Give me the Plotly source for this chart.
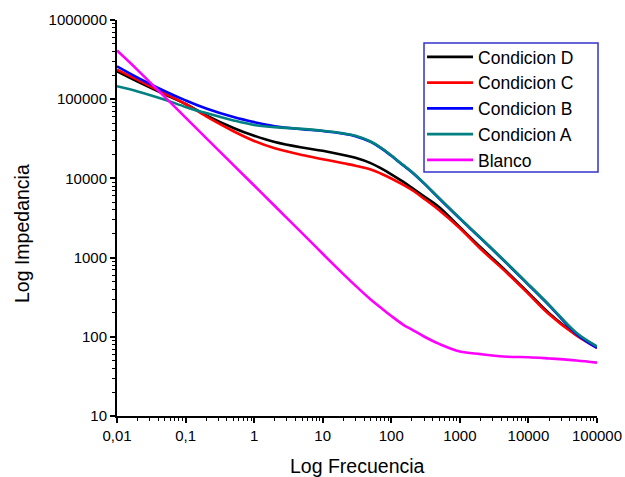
import plotly.graph_objects as go

# Frequency sweep (Hz)
frecuencia = [0.01, 0.02, 0.05, 0.1, 0.2, 0.5, 1, 2, 5, 10, 20, 30, 50, 70, 100,
              150, 200, 300, 500, 1000, 2000, 5000, 10000, 20000, 50000, 100000]

# Impedance modulus (ohm) per condition
cond_d = [225300, 166900, 114700, 86960, 62600, 43380, 34560, 28850, 24580, 22330,
          19760, 18170, 15570, 13460, 11270, 9030, 7607, 5939, 4324, 2415,
          1353, 646, 359, 198.2, 106.3, 75.2]
cond_c = [236700, 175400, 117700, 86960, 60630, 39390, 29700, 24020, 19760, 17490,
          15520, 14470, 12990, 11530, 9970, 8275, 7133, 5554, 3963, 2346,
          1292, 626, 348.7, 192.5, 103.8, 72.4]
cond_b = [260500, 187600, 126200, 96600, 76100, 59400, 51340, 45580, 41760, 39630,
          36630, 34160, 28930, 24300, 19310, 14560, 11950, 8645, 5570, 3103,
          1760, 820, 453, 249.5, 108.8, 72.4]
cond_a = [145600, 125500, 98550, 79900, 66730, 53950, 47330, 44390, 42180, 40030,
          37000, 34500, 29220, 24540, 19500, 14710, 12070, 8730, 5630, 3135,
          1780, 830, 460, 253, 112.4, 75.6]
blanco = [411600, 233300, 106300, 58550, 32320, 14730, 8134, 4478, 2040, 1117,
          618.5, 442.6, 296.2, 234, 183.2, 141.8, 123.3, 100.9, 81.3, 65.2,
          60.4, 56, 55.3, 53.3, 50.3, 47.2]

series = [
    ("Condicion D", cond_d, "#000000"),
    ("Condicion C", cond_c, "#FF0000"),
    ("Condicion B", cond_b, "#0000FF"),
    ("Condicion A", cond_a, "#008080"),
    ("Blanco", blanco, "#FF00FF"),
]

x_major = [0.01, 0.1, 1, 10, 100, 1000, 10000, 100000]
x_major_text = ["0,01", "0,1", "1", "10", "100", "1000", "10000", "100000"]
y_major = [10, 100, 1000, 10000, 100000, 1000000]
y_major_text = ["10", "100", "1000", "10000", "100000", "1000000"]

x_minor = [m * 10 ** e for e in range(-2, 5) for m in range(2, 10)]
y_minor = [m * 10 ** e for e in range(1, 6) for m in range(2, 10)]

FONT = "Liberation Sans, Arial, sans-serif"

fig = go.Figure()
for name, vals, color in series:
    fig.add_trace(go.Scatter(
        x=frecuencia, y=vals, name=name, mode="lines",
        line=dict(color=color, width=2.6, shape="spline", smoothing=1.0),
    ))

axis_common = dict(
    type="log",
    automargin=False,
    showgrid=False,
    zeroline=False,
    showline=True,
    linecolor="#000000",
    linewidth=2,
    ticks="outside",
    ticklen=5,
    tickwidth=1.5,
    tickcolor="#000000",
    tickmode="array",
    tickfont=dict(family=FONT, size=15, color="#000000"),
)

fig.update_xaxes(
    **axis_common,
    range=[-2, 5],
    tickvals=x_major,
    ticktext=x_major_text,
    minor=dict(ticks="outside", ticklen=3, tickwidth=1.2, tickcolor="#000000",
               tickmode="array", tickvals=x_minor),
)
fig.update_yaxes(
    **axis_common,
    range=[1, 6],
    tickvals=y_major,
    ticktext=y_major_text,
    minor=dict(ticks="outside", ticklen=3, tickwidth=1.2, tickcolor="#000000",
               tickmode="array", tickvals=y_minor),
)

fig.add_annotation(text="Log Frecuencia", xref="paper", yref="paper",
                   x=0.5, y=-0.126, xanchor="center", yanchor="middle",
                   showarrow=False, font=dict(family=FONT, size=19.5, color="#000000"))
fig.add_annotation(text="Log Impedancia", xref="paper", yref="paper",
                   x=-0.198, y=0.462, xanchor="center", yanchor="middle", textangle=-90,
                   showarrow=False, font=dict(family=FONT, size=19.5, color="#000000"))

# Legend frame
fig.add_shape(type="rect", xref="paper", yref="paper",
              x0=0.6396, x1=1.0021, y0=0.6162, y1=0.9419,
              line=dict(color="#3333CC", width=1.5), fillcolor="#FFFFFF", layer="above")

fig.update_layout(
    width=625, height=477,
    margin=dict(l=117, r=28, t=20, b=61),
    paper_bgcolor="#FFFFFF",
    plot_bgcolor="#FFFFFF",
    showlegend=True,
    legend=dict(
        x=0.6355, y=0.952, xanchor="left", yanchor="top",
        bgcolor="rgba(0,0,0,0)", borderwidth=0,
        font=dict(family=FONT, size=17.5, color="#000000"),
        itemwidth=46, tracegroupgap=0,
    ),
)

fig.write_html("out.html")
